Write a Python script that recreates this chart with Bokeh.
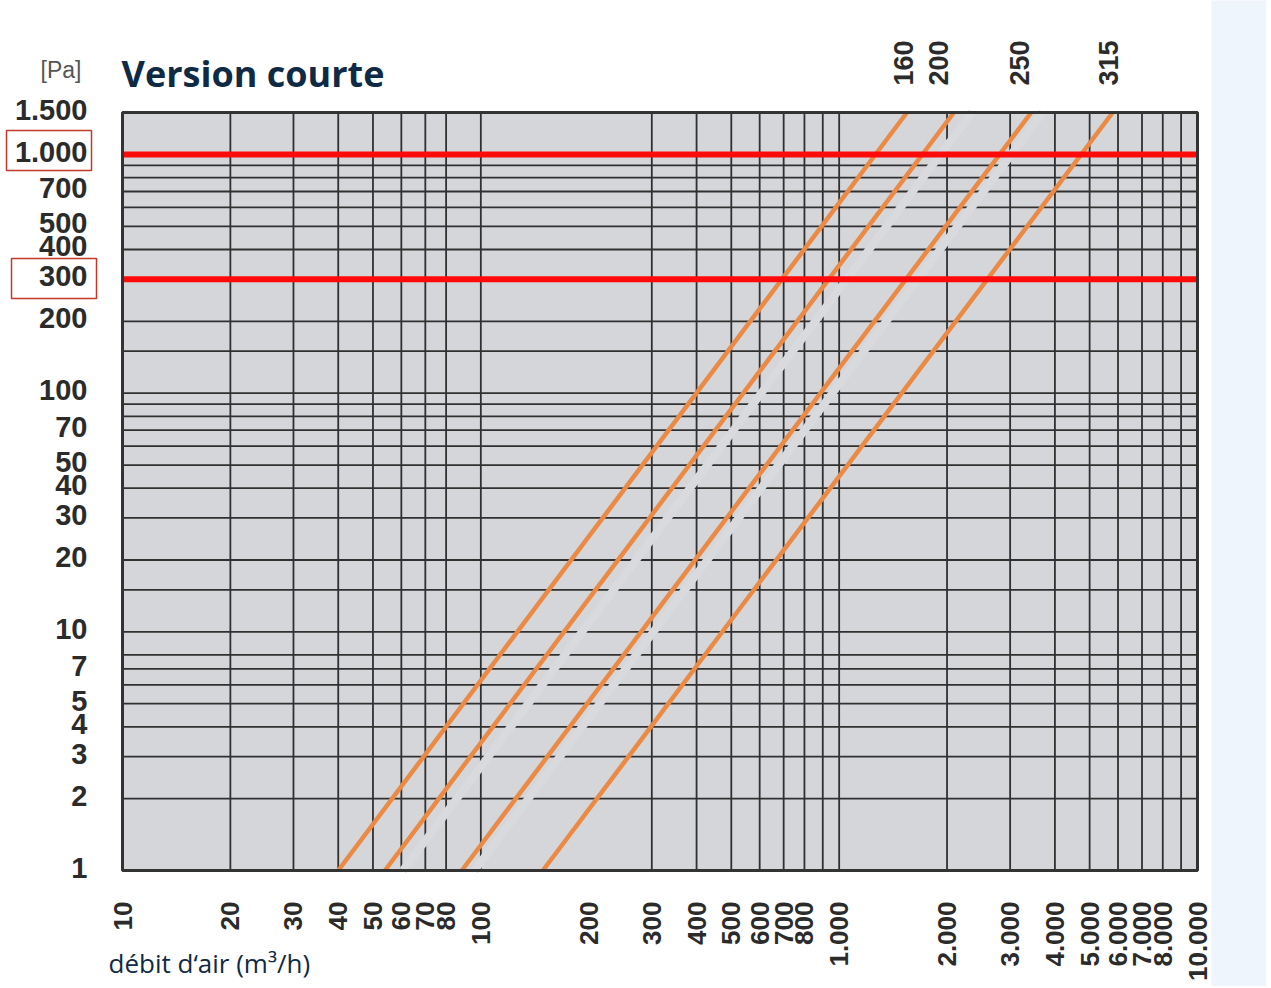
import math
from bokeh.plotting import figure
from bokeh.core.properties import value
from bokeh.embed import file_html
from bokeh.resources import INLINE

# ---------------- data ----------------
x_ticks = [10, 20, 30, 40, 50, 60, 70, 80, 100, 200, 300, 400, 500, 600, 700, 800,
           1000, 2000, 3000, 4000, 5000, 6000, 7000, 8000, 10000]
x_tick_labels = ["10", "20", "30", "40", "50", "60", "70", "80", "100", "200", "300", "400",
                 "500", "600", "700", "800", "1.000", "2.000", "3.000", "4.000", "5.000",
                 "6.000", "7.000", "8.000", "10.000"]
y_ticks = [1, 2, 3, 4, 5, 7, 10, 20, 30, 40, 50, 70, 100, 200, 300, 400, 500, 700, 1000, 1500]
y_tick_labels = ["1", "2", "3", "4", "5", "7", "10", "20", "30", "40", "50", "70", "100",
                 "200", "300", "400", "500", "700", "1.000", "1.500"]
x_grid = [20, 30, 40, 50, 60, 70, 80, 100, 300, 400, 500, 600, 700, 800, 900,
          1000, 2000, 3000, 4000, 5000, 6000, 7000, 8000, 9000]
y_grid = [2, 3, 4, 5, 6, 7, 8, 10, 15, 20, 30, 40, 50, 60, 70, 80, 90, 100, 150,
          200, 300, 400, 500, 600, 700, 800, 900, 1000]

diameters = ["160", "200", "250", "315"]
diameter_label_pos = [1510, 1890, 3190, 5650]     # x where the diameter labels sit
pressure_ends = [1, 1500]                          # Pa
flow_at_1pa = [40, 54, 88.5, 149]                  # m3/h at 1 Pa
flow_at_1500pa = [1546, 2090, 3435, 5800]          # m3/h at 1500 Pa
ghost_flow_1pa = [60.6, 96]                        # erased (light) lines
ghost_flow_1500pa = [2347, 3700]
ref_pressures = [1000, 300]
highlighted = ["1.000", "300"]

# ---------------- page geometry (px) ----------------
W, H = 1266, 986
FL, FT, FW, FH = 122, 112, 1075, 758            # plot area inside the canvas
XMIN, XMAX, YMIN, YMAX = 10, 10000, 1, 1500
DX = FW / (math.log10(XMAX) - math.log10(XMIN))  # px per decade
DY = FH / (math.log10(YMAX) - math.log10(YMIN))


def px_x(px):
    return 10 ** (math.log10(XMIN) + (px - FL) / DX)


def px_y(py):
    return 10 ** (math.log10(YMIN) + (FT + FH - py) / DY)


p = figure(width=W, height=H, x_axis_type="log", y_axis_type="log",
           x_range=(px_x(0), px_x(W)), y_range=(px_y(H), px_y(0)),
           x_axis_location=None, y_axis_location=None,
           output_backend="svg", toolbar_location=None, min_border=0)
p.xgrid.visible = False
p.ygrid.visible = False
p.outline_line_color = None
p.background_fill_color = "white"
p.border_fill_color = "white"

LABEL_COLOR = "#2b2b2b"
FONT = value("Liberation Sans")
GRID = "#303030"

# pale band on the right side of the page
p.quad(left=[px_x(1211)], right=[px_x(W + 5)], bottom=[px_y(H + 5)], top=[px_y(-5)],
       fill_color="#eff5fc", line_color=None)

# plot area
p.quad(left=[XMIN], right=[XMAX], bottom=[YMIN], top=[YMAX],
       fill_color="#d5d6da", line_color=None)

# grid
p.segment(x0=x_grid, y0=[YMIN] * len(x_grid), x1=x_grid, y1=[YMAX] * len(x_grid),
          line_color=GRID, line_width=1.8)
p.segment(x0=[XMIN] * len(y_grid), y0=y_grid, x1=[XMAX] * len(y_grid), y1=y_grid,
          line_color=GRID, line_width=1.8)

# erased lines (show only as gaps in the grid)
for q1, q2 in zip(ghost_flow_1pa, ghost_flow_1500pa):
    p.line([q1, q2], pressure_ends, line_color="#d9dade", line_width=8)

# duct curves
for q1, q2 in zip(flow_at_1pa, flow_at_1500pa):
    p.line([q1, q2], pressure_ends, line_color="#ea8a44", line_width=4.5)

# red reference lines
for pr in ref_pressures:
    p.line([XMIN, XMAX], [pr, pr], line_color="#ff0a0a", line_width=6)

# plot border
p.quad(left=[XMIN], right=[XMAX], bottom=[YMIN], top=[YMAX],
       fill_alpha=0, line_color="#333333", line_width=3)

# tick labels
p.text(x=x_ticks, y=[YMIN] * len(x_ticks), text=x_tick_labels, angle=math.pi / 2,
       y_offset=31, text_align="right", text_baseline="middle",
       text_font=FONT, text_font_style="bold", text_font_size="26px",
       text_color=LABEL_COLOR)
p.text(x=[XMIN] * len(y_ticks), y=y_ticks, text=y_tick_labels, x_offset=-35, y_offset=-3,
       text_align="right", text_baseline="middle",
       text_font=FONT, text_font_style="bold", text_font_size="29px",
       text_color=LABEL_COLOR)
p.text(x=diameter_label_pos, y=[YMAX] * len(diameters), text=diameters, angle=math.pi / 2,
       y_offset=-27, text_align="left", text_baseline="middle",
       text_font=FONT, text_font_style="bold", text_font_size="27px",
       text_color=LABEL_COLOR)

# red boxes round the highlighted pressure labels
box_px = {"1.000": (6, 91, 130, 170), "300": (11, 96, 258, 298)}
p.quad(left=[px_x(box_px[h][0]) for h in highlighted],
       right=[px_x(box_px[h][1]) for h in highlighted],
       top=[px_y(box_px[h][2]) for h in highlighted],
       bottom=[px_y(box_px[h][3]) for h in highlighted],
       fill_alpha=0, line_color="#c0392b", line_width=1.5)

# titles
p.text(x=[px_x(121)], y=[px_y(73)], text=["Version courte"], text_font=value("Open Sans"),
       text_font_style="bold", text_font_size="36px", text_color="#0f2a44",
       text_baseline="middle", text_align="left")
p.text(x=[px_x(81)], y=[px_y(69)], text=["[Pa]"], text_font=FONT,
       text_font_size="23px", text_color="#555555",
       text_baseline="middle", text_align="right")
p.text(x=[px_x(108)], y=[px_y(962)], text=["débit d‘air (m³/h)"], text_font=value("Open Sans"),
       text_font_size="26px", text_color="#0f2a44",
       text_baseline="middle", text_align="left")

with open("out.html", "w") as f:
    f.write(file_html(p, INLINE))
